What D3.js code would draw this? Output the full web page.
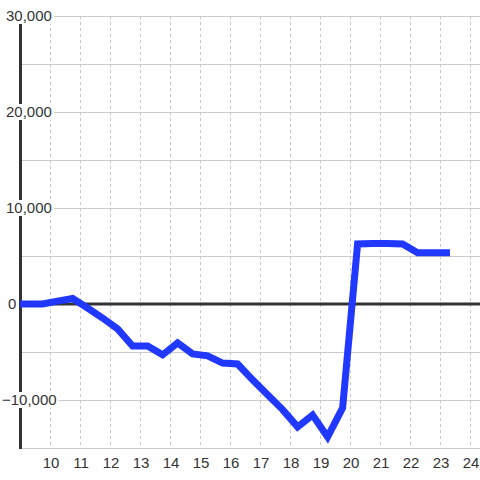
<!DOCTYPE html>
<html><head><meta charset="utf-8">
<script src="https://cdn.jsdelivr.net/npm/d3@7"></script>
<style>body{margin:0;background:#fff}svg{display:block}text{font-family:"Liberation Sans",Arial,sans-serif}</style>
</head><body>
<svg id="c" width="480" height="480"></svg>
<script>
const hours = [8.97, 9.72, 10.22, 10.72, 11.22, 11.72, 12.22, 12.72, 13.22, 13.72, 14.22, 14.72, 15.22, 15.72, 16.22, 16.72, 17.22, 17.72, 18.22, 18.72, 19.22, 19.72, 20.22, 20.72, 21.22, 21.72, 22.22, 22.72, 23.3];
const values = [0, 0, 300, 570, -420, -1460, -2600, -4375, -4375, -5300, -4060, -5200, -5400, -6150, -6250, -7900, -9450, -11000, -12800, -11560, -13850, -10830, 6250, 6300, 6300, 6250, 5340, 5340, 5340];
const xTicks = [10,11,12,13,14,15,16,17,18,19,20,21,22,23,24];
const yLabelTicks = [30000, 20000, 10000, 0, -10000];
const yGridTicks = [30000, 25000, 20000, 15000, 10000, 5000, -5000, -10000, -15000];

const svg = d3.select("#c");
const x = d3.scaleLinear().domain([9, 24.3]).range([21, 480]);
const y = d3.scaleLinear().domain([-15000, 30000]).range([448, 16]);

// horizontal grid
svg.append("g").selectAll("line").data(yGridTicks).join("line")
  .attr("x1", 21).attr("x2", 480)
  .attr("y1", d => Math.round(y(d)) + 0.5).attr("y2", d => Math.round(y(d)) + 0.5)
  .attr("stroke", "#cccccc").attr("stroke-width", 1);
// vertical dashed grid
svg.append("g").selectAll("line").data(xTicks).join("line")
  .attr("x1", d => Math.round(x(d)) - 0.5).attr("x2", d => Math.round(x(d)) - 0.5)
  .attr("y1", 16).attr("y2", 448)
  .attr("stroke", "#c8c8c8").attr("stroke-width", 1).attr("stroke-dasharray", "3,3");
// zero line
svg.append("line").attr("x1", 21).attr("x2", 480).attr("y1", y(0)).attr("y2", y(0))
  .attr("stroke", "#333").attr("stroke-width", 3);
// y axis line
svg.append("line").attr("x1", 20.5).attr("x2", 20.5).attr("y1", 16).attr("y2", 449)
  .attr("stroke", "#333").attr("stroke-width", 3);

// y labels with background
const fmt = d3.format(",");
const yl = svg.append("g").selectAll("g").data(yLabelTicks).join("g");
yl.each(function(d){
  const g = d3.select(this);
  const t = g.append("text").attr("x", d < 0 ? 2 : (d === 0 ? 8 : 6)).attr("y", y(d)).attr("dy", "0.36em")
    .attr("font-size", 15).attr("fill", "#333").text(fmt(d));
  const b = t.node().getBBox();
  g.insert("rect", "text").attr("x", b.x - 2).attr("y", y(d) - 8).attr("width", b.width + 4).attr("height", 16).attr("fill", "#fff");
});

// x labels
svg.append("g").selectAll("text").data(xTicks).join("text")
  .attr("x", d => x(d)).attr("y", 468).attr("text-anchor", "middle")
  .attr("font-size", 15).attr("fill", "#333").text(d => d);

// data line
const line = d3.line().x((d, i) => x(hours[i])).y(d => y(d));
svg.append("path").datum(values).attr("d", line)
  .attr("fill", "none").attr("stroke", "#2038ff").attr("stroke-width", 7)
  .attr("stroke-linejoin", "miter").attr("stroke-linecap", "butt");
</script>
</body></html>
